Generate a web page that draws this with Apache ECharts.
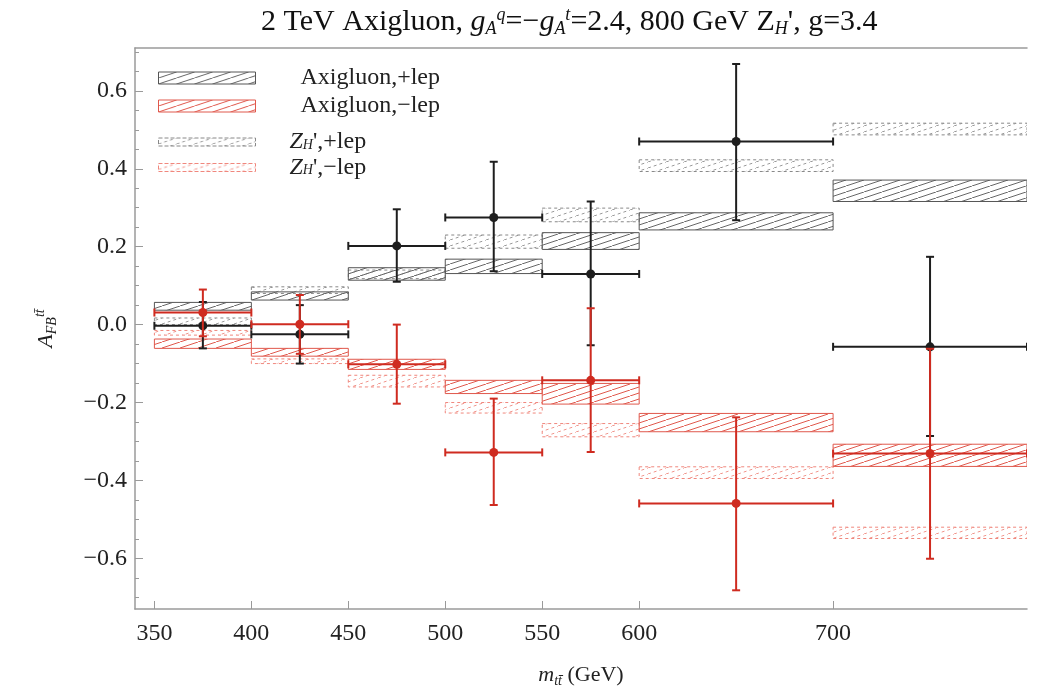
<!DOCTYPE html>
<html><head><meta charset="utf-8">
<script src="https://cdn.jsdelivr.net/npm/echarts@6/dist/echarts.min.js"></script>
<style>html,body{margin:0;padding:0;background:#fff}#c{width:1045px;height:693px}</style>
</head><body><div id="c"></div>
<script>
// ---- data ----
const binLo  = [350, 400, 450, 500, 550, 600, 700];
const binHi  = [400, 450, 500, 550, 600, 700, 800];
const binMid = [375, 425, 475, 525, 575, 650, 750];

const axiPlusLo  = [0.037, 0.063, 0.114, 0.131, 0.193, 0.243, 0.316];
const axiPlusHi  = [0.057, 0.084, 0.146, 0.168, 0.236, 0.287, 0.371];
const axiMinusLo = [-0.061, -0.081, -0.115, -0.177, -0.204, -0.275, -0.364];
const axiMinusHi = [-0.037, -0.061, -0.089, -0.143, -0.151, -0.228, -0.307];
const zPlusLo    = [0.000, 0.080, 0.118, 0.196, 0.264, 0.393, 0.487];
const zPlusHi    = [0.017, 0.097, 0.140, 0.230, 0.299, 0.423, 0.517];
const zMinusLo   = [-0.027, -0.100, -0.160, -0.227, -0.288, -0.395, -0.549];
const zMinusHi   = [-0.015, -0.088, -0.130, -0.200, -0.254, -0.365, -0.520];

const plusVal    = [-0.003, -0.025, 0.202, 0.275, 0.130, 0.470, -0.057];
const plusErrLo  = [-0.061, -0.100, 0.110, 0.137, -0.053, 0.268, -0.286];
const plusErrHi  = [0.058, 0.050, 0.296, 0.418, 0.316, 0.669, 0.174];
const minusVal   = [0.031, 0.001, -0.102, -0.328, -0.143, -0.459, -0.331];
const minusErrLo = [-0.030, -0.075, -0.203, -0.463, -0.327, -0.682, -0.601];
const minusErrHi = [0.090, 0.076, 0.000, -0.190, 0.042, -0.238, -0.062];

const xTickValues = [350, 400, 450, 500, 550, 600, 700];
const yTickValues = [-0.6, -0.4, -0.2, 0, 0.2, 0.4, 0.6];
const yMinorValues = [-0.7, -0.65, -0.55, -0.5, -0.45, -0.35, -0.3, -0.25, -0.15, -0.1, -0.05,
                      0.05, 0.1, 0.15, 0.25, 0.3, 0.35, 0.45, 0.5, 0.55, 0.65, 0.7];

const names = ['Axigluon,+lep', 'Axigluon,\u2212lep', "Z_H',+lep", "Z_H',\u2212lep"];

// ---- styling helpers ----
const FONT = 'Liberation Serif';
function hatch(color, dashed) {
  const c = document.createElement('canvas');
  const w = 18, h = 6;
  c.width = w; c.height = h;
  const g = c.getContext('2d');
  g.strokeStyle = color; g.lineWidth = 1;
  if (dashed) g.setLineDash([3, 3]);
  for (const dx of [-w, 0, w]) { g.beginPath(); g.moveTo(dx, h); g.lineTo(dx + w, 0); g.stroke(); }
  return c;
}
const styles = [
  {stroke: '#555', pat: hatch('#666', false), dashed: false},
  {stroke: '#e0584c', pat: hatch('#e0584c', false), dashed: false},
  {stroke: '#888', pat: hatch('#999', true), dashed: true},
  {stroke: '#f0877d', pat: hatch('#f0948b', true), dashed: true}
];

function boxSeries(name, lo, hi, st) {
  return {
    name, type: 'custom', clip: true, z: 2,
    itemStyle: {color: st.stroke},
    data: binLo.map((x, i) => [x, binHi[i], lo[i], hi[i]]),
    encode: {x: [0, 1], y: [2, 3]},
    renderItem(params, api) {
      const p1 = api.coord([api.value(0), api.value(3)]);
      const p2 = api.coord([api.value(1), api.value(2)]);
      return {type: 'rect',
        shape: {x: p1[0], y: p1[1], width: p2[0] - p1[0], height: p2[1] - p1[1]},
        style: {fill: {image: st.pat, repeat: 'repeat'}, stroke: st.stroke, lineWidth: 1,
                lineDash: st.dashed ? [3, 3] : null}};
    }
  };
}
function errSeries(name, vals, lo, hi, color) {
  return {
    name, type: 'custom', clip: true, z: 5,
    data: binMid.map((x, i) => [x, vals[i], lo[i], hi[i], binLo[i], binHi[i]]),
    encode: {x: [0, 4, 5], y: [1, 2, 3]},
    renderItem(params, api) {
      const c = api.coord([api.value(0), api.value(1)]);
      const l = api.coord([api.value(4), api.value(1)]);
      const r = api.coord([api.value(5), api.value(1)]);
      const t = api.coord([api.value(0), api.value(3)]);
      const b = api.coord([api.value(0), api.value(2)]);
      const s = {stroke: color, lineWidth: 2};
      const k = 4;
      return {type: 'group', children: [
        {type: 'line', shape: {x1: l[0], y1: c[1], x2: r[0], y2: c[1]}, style: s},
        {type: 'line', shape: {x1: l[0], y1: c[1] - k, x2: l[0], y2: c[1] + k}, style: s},
        {type: 'line', shape: {x1: r[0], y1: c[1] - k, x2: r[0], y2: c[1] + k}, style: s},
        {type: 'line', shape: {x1: c[0], y1: t[1], x2: c[0], y2: b[1]}, style: s},
        {type: 'line', shape: {x1: c[0] - k, y1: t[1], x2: c[0] + k, y2: t[1]}, style: s},
        {type: 'line', shape: {x1: c[0] - k, y1: b[1], x2: c[0] + k, y2: b[1]}, style: s},
        {type: 'circle', shape: {cx: c[0], cy: c[1], r: 4.5}, style: {fill: color}}
      ]};
    }
  };
}

const richBase = {
  n: {fontFamily: FONT, fontSize: 22, color: '#222', lineHeight: 26},
  i: {fontFamily: FONT, fontSize: 22, color: '#222', fontStyle: 'italic', lineHeight: 26},
  sub: {fontFamily: FONT, fontSize: 14, color: '#222', fontStyle: 'italic', verticalAlign: 'bottom', lineHeight: 16},
  sup: {fontFamily: FONT, fontSize: 14, color: '#222', fontStyle: 'italic', verticalAlign: 'top', lineHeight: 16}
};
function legendRich(spacer) {
  return {
    sp: {width: spacer},
    n: {fontFamily: FONT, fontSize: 24, color: '#222', lineHeight: 20},
    i: {fontFamily: FONT, fontSize: 24, color: '#222', fontStyle: 'italic', lineHeight: 20},
    sub: {fontFamily: FONT, fontSize: 14, color: '#222', fontStyle: 'italic', verticalAlign: 'bottom', lineHeight: 12}
  };
}
function legendLabel(name) {
  if (name.startsWith('Z_H')) return '{sp|}{i|Z}{sub|H}{n|' + name.slice(3) + '}';
  return '{sp|}{n|' + name + '}';
}
function legendItem(i) {
  const st = styles[i];
  return {name: names[i], icon: 'rect',
    itemStyle: {color: {image: st.pat, repeat: 'repeat'}, borderColor: st.stroke, borderWidth: 1,
                borderType: st.dashed ? 'dashed' : 'solid'}};
}

const axisLine = {show: true, onZero: false, lineStyle: {color: '#9a9a9a', width: 1.5}};

const option = {
  animation: false,
  backgroundColor: '#fff',
  title: {
    text: '{n|2 TeV Axigluon, }{i|g}{sub|A}{sup|q}{n|=\u2212}{i|g}{sub|A}{sup|t}{n|=2.4, 800 GeV Z}{sub|H}{n|\', g=3.4}',
    left: 256, top: 1,
    textStyle: {fontWeight: 'normal', rich: {
      n: {fontFamily: FONT, fontSize: 30, fontWeight: 'normal', color: '#111', lineHeight: 32},
      i: {fontFamily: FONT, fontSize: 30, fontWeight: 'normal', color: '#111', fontStyle: 'italic', lineHeight: 32},
      sub: {fontFamily: FONT, fontSize: 18, fontWeight: 'normal', color: '#111', fontStyle: 'italic', verticalAlign: 'bottom', lineHeight: 18},
      sup: {fontFamily: FONT, fontSize: 18, fontWeight: 'normal', color: '#111', fontStyle: 'italic', verticalAlign: 'top', lineHeight: 18}
    }}
  },
  legend: [
    {data: [legendItem(0), legendItem(1)], left: 153, top: 61, orient: 'vertical',
     itemWidth: 97, itemHeight: 12, itemGap: 4, selectedMode: false,
     formatter: legendLabel, textStyle: {rich: legendRich(40)}},
    {data: [legendItem(2), legendItem(3)], left: 153, top: 125, orient: 'vertical',
     itemWidth: 97, itemHeight: 8, itemGap: 1.5, selectedMode: false,
     formatter: legendLabel, textStyle: {rich: legendRich(29)}}
  ],
  grid: {left: 135, right: 18, top: 48, bottom: 84},
  xAxis: [
    {type: 'value', min: 340, max: 800, position: 'bottom',
     axisLine, splitLine: {show: false},
     axisTick: {show: true, inside: true, length: 8, customValues: xTickValues, lineStyle: {color: '#9a9a9a'}},
     axisLabel: {customValues: xTickValues, fontFamily: FONT, fontSize: 24, color: '#222', margin: 13},
     name: '{i|m}{sub|tt\u0304}{n| (GeV)}', nameLocation: 'middle', nameGap: 53,
     nameTextStyle: {rich: richBase}},
    {type: 'value', min: 340, max: 800, position: 'top',
     axisLine, splitLine: {show: false}, axisTick: {show: false}, axisLabel: {show: false}}
  ],
  yAxis: [
    {type: 'value', min: -0.73, max: 0.71, position: 'left',
     axisLine, splitLine: {show: false},
     axisTick: {show: true, inside: true, length: 8, customValues: yTickValues, lineStyle: {color: '#9a9a9a'}},
     axisLabel: {customValues: yTickValues, fontFamily: FONT, fontSize: 24, color: '#222', margin: 8,
                 formatter: v => (v < 0 ? '\u2212' : '') + Math.abs(v).toFixed(1)},
     name: '{i|A}{sub|FB}{sup|tt\u0304}', nameLocation: 'middle', nameGap: 76, nameRotate: 90,
     nameTextStyle: {rich: richBase}},
    {type: 'value', min: -0.73, max: 0.71, position: 'left',
     axisLine: {show: false}, splitLine: {show: false},
     axisTick: {show: true, inside: true, length: 4, customValues: yMinorValues, lineStyle: {color: '#9a9a9a'}},
     axisLabel: {show: false}}
  ],
  series: [
    boxSeries(names[2], zPlusLo, zPlusHi, styles[2]),
    boxSeries(names[3], zMinusLo, zMinusHi, styles[3]),
    boxSeries(names[0], axiPlusLo, axiPlusHi, styles[0]),
    boxSeries(names[1], axiMinusLo, axiMinusHi, styles[1]),
    errSeries('data +lep', plusVal, plusErrLo, plusErrHi, '#1e1e1e'),
    errSeries('data \u2212lep', minusVal, minusErrLo, minusErrHi, '#cf2b20')
  ]
};
const chart = echarts.init(document.getElementById('c'), null, {renderer: 'canvas'});
chart.setOption(option);
</script>
</body></html>
